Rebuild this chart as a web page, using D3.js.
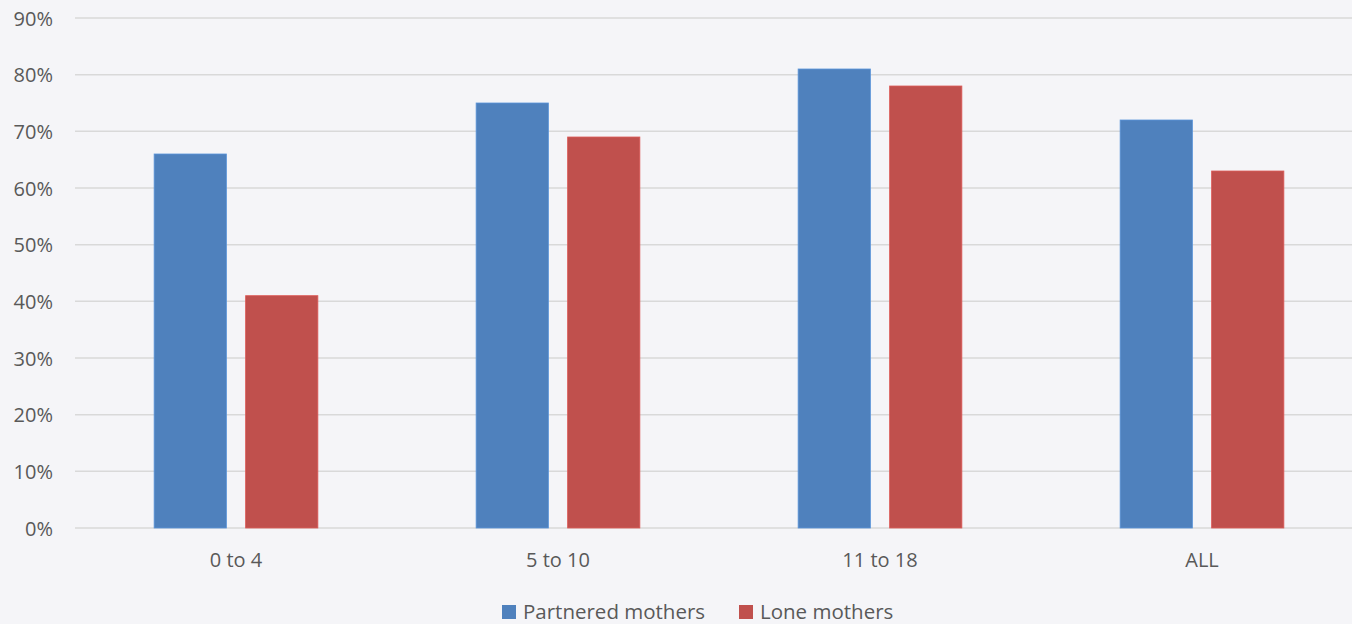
<!DOCTYPE html>
<html>
<head>
<meta charset="utf-8">
<script src="https://cdn.jsdelivr.net/npm/d3@7"></script>
<style>
  body { margin: 0; background: #f5f5f8; }
  svg { display: block; }
  svg text { font-family: "Open Sans", "Noto Sans", sans-serif; fill: #595959; }
</style>
</head>
<body>
<svg width="1352" height="624"></svg>
<script>
// Data
const categories = ["0 to 4", "5 to 10", "11 to 18", "ALL"];
const seriesNames = ["Partnered mothers", "Lone mothers"];
const partnered = [66, 75, 81, 72];
const lone = [41, 69, 78, 63];
const yTicks = [0, 10, 20, 30, 40, 50, 60, 70, 80, 90];
const colors = ["#4f81bd", "#c0504d"];

const svg = d3.select("svg");
const plotLeft = 75, plotTop = 18, plotBottom = 528;

// scales
const x0 = d3.scaleBand()
    .domain(categories)
    .range([plotLeft, plotLeft + 4 * 322]);

const x1 = d3.scaleBand()
    .domain(seriesNames)
    .range([0, x0.bandwidth()])
    .paddingInner(0.21)
    .paddingOuter(0.865);

const y = d3.scaleLinear()
    .domain([0, 90])
    .range([plotBottom, plotTop]);

const color = d3.scaleOrdinal().domain(seriesNames).range(colors);

// gridlines
svg.append("g")
    .selectAll("line")
    .data(yTicks)
    .join("line")
    .attr("x1", plotLeft)
    .attr("x2", 1352)
    .attr("y1", d => y(d))
    .attr("y2", d => y(d))
    .style("stroke", "#d9d9d9")
    .style("stroke-width", 1.5)

// y axis labels
const yAxis = svg.append("g")
    .attr("transform", "translate(53,0)")
    .call(d3.axisLeft(y).tickValues(yTicks).tickFormat(d => d + "%").tickSize(0).tickPadding(0))
yAxis.select(".domain").remove();
yAxis.selectAll("text").style("font-size", "20px").attr("dy", "0.35em");

// bars
const rows = categories.map((c, i) => ({cat: c, values: [partnered[i], lone[i]]}));

svg.append("g")
    .selectAll("g")
    .data(rows)
    .join("g")
    .attr("transform", d => "translate(" + x0(d.cat) + ",0)")
    .selectAll("rect")
    .data(d => d.values.map((v, j) => ({name: seriesNames[j], value: v})))
    .join("rect")
    .attr("x", d => x1(d.name))
    .attr("width", x1.bandwidth())
    .attr("y", d => y(d.value))
    .attr("height", d => y(0) - y(d.value))
    .attr("fill", d => color(d.name))
    .style("stroke", d => d3.color(color(d.name)).brighter(0.4))
    .style("stroke-width", 0.8)

// x axis labels
const xAxis = svg.append("g")
    .attr("transform", "translate(0," + plotBottom + ")")
    .call(d3.axisBottom(x0).tickSize(0).tickPadding(32))
xAxis.select(".domain").remove();
xAxis.selectAll("text").style("font-size", "20px").attr("dy", "0.35em");

// legend
const legendX = [502, 739];
const legend = svg.append("g")
    .selectAll("g")
    .data(seriesNames)
    .join("g")
    .attr("transform", (d, i) => "translate(" + legendX[i] + ",605)")
legend.append("rect")
    .attr("width", 14)
    .attr("height", 14)
    .attr("fill", d => color(d))
legend.append("text")
    .attr("x", 21)
    .attr("y", 14)
    .text(d => d)
    .style("font-size", "20.5px")
</script>
</body>
</html>
